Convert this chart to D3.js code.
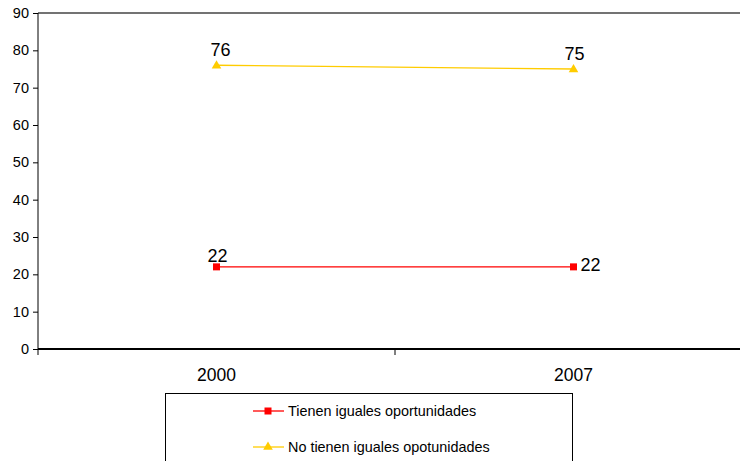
<!DOCTYPE html>
<html>
<head>
<meta charset="utf-8">
<script src="https://cdn.jsdelivr.net/npm/d3@7"></script>
<style>
  html, body { margin: 0; padding: 0; background: #fff; }
  svg { display: block; font-family: "Liberation Sans", Arial, sans-serif; }
</style>
</head>
<body>
<svg id="chart" width="740" height="461"></svg>
<script>
// Survey years and shares (%) for each answer
const years = ["2000", "2007"];
const tienen = [22, 22];
const noTienen = [76, 75];
const yTicks = [0, 10, 20, 30, 40, 50, 60, 70, 80, 90];

const seriesNames = ["Tienen iguales oportunidades", "No tienen iguales opotunidades"];
const seriesColors = ["#FF0000", "#FFCC00"];

const svg = d3.select("#chart");
const plotLeft = 38, plotTop = 13, plotBottom = 349, plotRight = 752;

const x = d3.scaleBand().domain(years).range([plotLeft, plotRight]);
const y = d3.scaleLinear().domain([0, 90]).range([plotBottom, plotTop]);

// top border of the plot area
svg.append("line")
  .attr("x1", plotLeft).attr("x2", 740).attr("y1", plotTop).attr("y2", plotTop)
  .attr("stroke", "#737373").attr("stroke-width", 2);

// y axis
const yAxis = svg.append("g")
  .attr("transform", `translate(${plotLeft},0)`)
  .call(d3.axisLeft(y).tickValues(yTicks).tickSize(5).tickPadding(4).tickFormat(d3.format("d")));
yAxis.select(".domain").attr("stroke", "#000").attr("d", `M0,${plotTop}V${plotBottom + 6}`);
yAxis.selectAll(".tick line").attr("stroke", "#000");
yAxis.selectAll(".tick text").attr("font-size", 14.5).attr("fill", "#000")
  .attr("font-family", "Liberation Sans, Arial, sans-serif");

// x axis with ticks between categories
const xAxis = svg.append("g")
  .attr("transform", `translate(0,${plotBottom})`)
  .call(d3.axisBottom(x).tickSize(0).tickPadding(20));
xAxis.select(".domain").remove();
xAxis.append("line")
  .attr("x1", plotLeft).attr("x2", 740).attr("y1", 0).attr("y2", 0)
  .attr("stroke", "#000").attr("stroke-width", 2);
xAxis.selectAll(".tick text").attr("font-size", 17.5).attr("fill", "#000")
  .attr("font-family", "Liberation Sans, Arial, sans-serif");
const boundaries = years.slice(1).map(d => x(d));
xAxis.selectAll(".sep").data(boundaries).enter().append("line")
  .attr("x1", d => d).attr("x2", d => d).attr("y1", 0).attr("y2", 6)
  .attr("stroke", "#000");

const cx = d => x(d) + x.bandwidth() / 2;
const line = d3.line().x((d, i) => cx(years[i])).y(d => y(d));

// series: Tienen
svg.append("path").datum(tienen).attr("d", line)
  .attr("fill", "none").attr("stroke", seriesColors[0]).attr("stroke-width", 1.3);
svg.selectAll(".sq").data(tienen).enter().append("rect")
  .attr("x", (d, i) => cx(years[i]) - 3.5).attr("y", d => y(d) - 3.5)
  .attr("width", 7).attr("height", 7).attr("fill", seriesColors[0]);

// series: No tienen
const tri = d3.symbol().type(d3.symbolTriangle).size(40);
svg.append("path").datum(noTienen).attr("d", line)
  .attr("fill", "none").attr("stroke", seriesColors[1]).attr("stroke-width", 1.3);
svg.selectAll(".tri").data(noTienen).enter().append("path")
  .attr("d", tri)
  .attr("transform", (d, i) => `translate(${cx(years[i])},${y(d) + 0.5})`)
  .attr("fill", seriesColors[1]);

// data labels
const labelFont = 18;
svg.selectAll(".lblN").data(noTienen).enter().append("text")
  .attr("x", (d, i) => cx(years[i]) + (i === 0 ? 4 : 1))
  .attr("y", d => y(d) - 9)
  .attr("text-anchor", "middle").attr("font-size", labelFont).attr("fill", "#000")
  .text(d => d);
svg.append("text")
  .attr("x", cx(years[0]) + 1).attr("y", y(tienen[0]) - 5)
  .attr("text-anchor", "middle").attr("font-size", labelFont).attr("fill", "#000")
  .text(tienen[0]);
svg.append("text")
  .attr("x", cx(years[1]) + 7).attr("y", y(tienen[1]) + 4)
  .attr("text-anchor", "start").attr("font-size", labelFont).attr("fill", "#000")
  .text(tienen[1]);

// legend
const lg = svg.append("g");
lg.append("rect").attr("x", 165.5).attr("y", 393.5).attr("width", 407).attr("height", 80)
  .attr("fill", "#fff").attr("stroke", "#000").attr("stroke-width", 1);
const rowsY = [411, 447];
seriesNames.forEach((name, i) => {
  const g = lg.append("g").attr("transform", `translate(0,${rowsY[i]})`);
  g.append("line").attr("x1", 253).attr("x2", 284).attr("y1", 0).attr("y2", 0)
    .attr("stroke", seriesColors[i]).attr("stroke-width", 1.3);
  if (i === 0) {
    g.append("rect").attr("x", 264.5).attr("y", -3.5).attr("width", 7).attr("height", 7)
      .attr("fill", seriesColors[i]);
  } else {
    g.append("path").attr("d", tri).attr("transform", "translate(268,0)")
      .attr("fill", seriesColors[i]);
  }
  g.append("text").attr("x", 288).attr("y", 5).attr("font-size", 14.4).attr("fill", "#000")
    .text(name);
});
</script>
</body>
</html>
